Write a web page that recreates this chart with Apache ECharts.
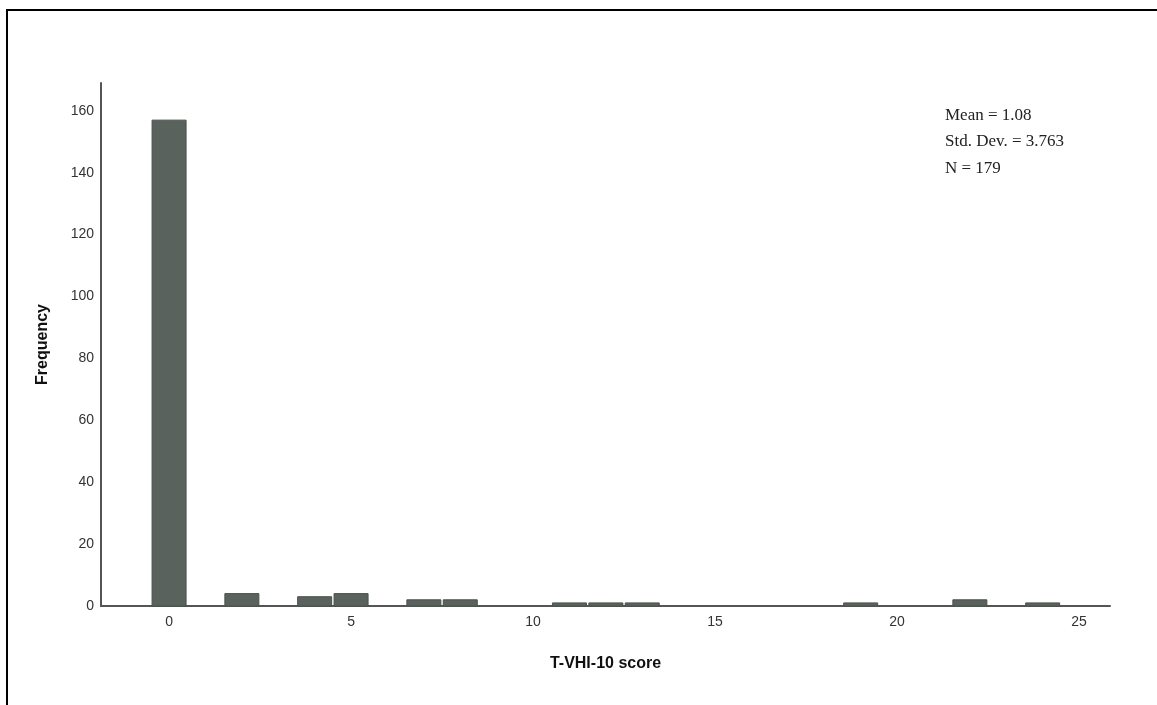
<!DOCTYPE html>
<html>
<head>
<meta charset="utf-8">
<script src="https://cdn.jsdelivr.net/npm/echarts@6/dist/echarts.min.js"></script>
<style>
html,body{margin:0;padding:0;background:#fff;}
#chart{width:1157px;height:705px;}
</style>
</head>
<body>
<div id="chart"></div>
<script>
// Histogram data: score value (bin centre) and frequency
const scores = [0, 2, 4, 5, 7, 8, 11, 12, 13, 19, 22, 24];
const frequencies = [157, 4, 3, 4, 2, 2, 1, 1, 1, 1, 2, 1];
const xTickLabels = [0, 5, 10, 15, 20, 25];
const statsLines = ['Mean = 1.08', 'Std. Dev. = 3.763', 'N = 179'];
const xTitle = 'T-VHI-10 score';
const yTitle = 'Frequency';

const chart = echarts.init(document.getElementById('chart'), null, {renderer: 'canvas'});
const data = scores.map((s, i) => [s, frequencies[i]]);
const binHalf = 0.467;

chart.setOption({
  animation: false,
  backgroundColor: '#ffffff',
  grid: {left: 101, right: 47, top: 83, bottom: 99},
  xAxis: {
    type: 'value',
    min: -1.87,
    max: 25.85,
    name: xTitle,
    nameLocation: 'middle',
    nameGap: 50,
    nameTextStyle: {fontFamily: 'Liberation Sans', fontSize: 16, fontWeight: 'bold', color: '#111'},
    axisLine: {show: true, onZero: false, lineStyle: {color: '#555', width: 2}},
    axisTick: {show: false},
    splitLine: {show: false},
    axisLabel: {customValues: xTickLabels, fontFamily: 'Liberation Sans', fontSize: 14, color: '#333', margin: 9}
  },
  yAxis: {
    type: 'value',
    min: 0,
    max: 169,
    interval: 20,
    name: yTitle,
    nameLocation: 'middle',
    nameGap: 50,
    nameTextStyle: {fontFamily: 'Liberation Sans', fontSize: 16, fontWeight: 'bold', color: '#111'},
    axisLine: {show: true, onZero: false, lineStyle: {color: '#555', width: 2}},
    axisTick: {show: false},
    splitLine: {show: false},
    axisLabel: {showMaxLabel: false, fontFamily: 'Liberation Sans', fontSize: 14, color: '#333', margin: 7}
  },
  series: [{
    type: 'custom',
    data: data,
    renderItem: function (params, api) {
      const x = api.value(0), y = api.value(1);
      const p0 = api.coord([x - binHalf, y]);
      const p1 = api.coord([x + binHalf, 0]);
      return {
        type: 'rect',
        shape: {x: p0[0], y: p0[1], width: p1[0] - p0[0], height: p1[1] - p0[1]},
        style: {fill: '#59625c', stroke: '#4a524c', lineWidth: 1}
      };
    },
    encode: {x: 0, y: 1}
  }],
  graphic: [
    {type: 'line', shape: {x1: 7, y1: 10, x2: 1157, y2: 10}, style: {stroke: '#000', lineWidth: 2}},
    {type: 'line', shape: {x1: 7, y1: 9, x2: 7, y2: 705}, style: {stroke: '#000', lineWidth: 2}},
    {
      type: 'text', left: 945, top: 102,
      style: {text: statsLines.join('\n'), font: '17px "Liberation Serif"', fill: '#222', lineHeight: 26.5}
    }
  ]
});
</script>
</body>
</html>
